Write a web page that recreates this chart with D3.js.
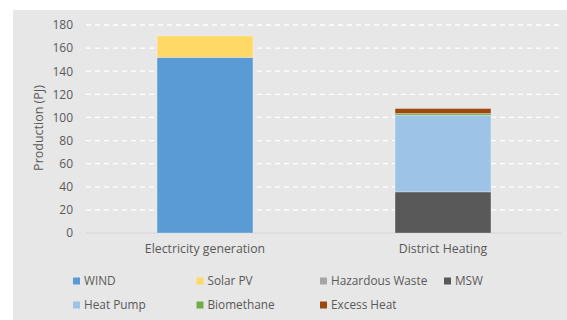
<!DOCTYPE html>
<html><head><meta charset="utf-8">
<script src="https://cdn.jsdelivr.net/npm/d3@7"></script>
<style>
html,body{margin:0;padding:0;background:#fff;}
text{font-family:"Open Sans","Noto Sans",sans-serif;fill:#595959;}
</style></head>
<body>
<script>
const categories = ["Electricity generation", "District Heating"];
const seriesNames = ["WIND", "Solar PV", "Hazardous Waste", "MSW", "Heat Pump", "Biomethane", "Excess Heat"];
const seriesColors = ["#5B9BD5", "#FFD966", "#A5A5A5", "#595959", "#9DC3E6", "#70AD47", "#9E480E"];
const WIND = [152, 0];
const SolarPV = [18.5, 0];
const HazardousWaste = [0, 0];
const MSW = [0, 35.6];
const HeatPump = [0, 66.4];
const Biomethane = [0, 1.4];
const ExcessHeat = [0, 4.3];
const yTicks = [0, 20, 40, 60, 80, 100, 120, 140, 160, 180];

const seriesValues = [WIND, SolarPV, HazardousWaste, MSW, HeatPump, Biomethane, ExcessHeat];
const rows = categories.map((c, i) => {
  const r = {cat: c};
  seriesNames.forEach((s, j) => r[s] = seriesValues[j][i]);
  return r;
});

const W = 567, H = 320;
const svg = d3.select("body").append("svg").attr("width", W).attr("height", H);
svg.append("rect").attr("x", 13).attr("y", 10).attr("width", W - 13).attr("height", H - 10).attr("fill", "#E7E7E7");

const L = 86, R = 562, T = 25, B = 233;
const x = d3.scaleBand().domain(categories).range([L, R]).padding(0);
const y = d3.scaleLinear().domain([0, 180]).range([B, T]);
const barW = x.bandwidth() * 0.403;

// gridlines
svg.append("g").selectAll("line").data(yTicks.filter(t => t > 0)).join("line")
  .attr("x1", L).attr("x2", 561).attr("y1", d => y(d)).attr("y2", d => y(d))
  .attr("stroke", "#fff").attr("stroke-width", 1.3).attr("stroke-dasharray", "5,4");

// axis line
svg.append("line").attr("x1", L).attr("x2", 561).attr("y1", B).attr("y2", B)
  .attr("stroke", "#D4D4D4").attr("stroke-width", 1);

// y axis labels
const yAxis = d3.axisLeft(y).tickValues(yTicks).tickSize(0).tickPadding(0);
const gy = svg.append("g").attr("transform", `translate(${73},0)`).call(yAxis);
gy.select(".domain").remove();
gy.selectAll("text").style("font-size", "12px").attr("fill", "#595959")
  .style("font-family", '"Open Sans","Noto Sans",sans-serif');

// x axis labels
const xAxis = d3.axisBottom(x).tickSize(0).tickPadding(0);
const gx = svg.append("g").attr("transform", `translate(0,${244})`).call(xAxis);
gx.select(".domain").remove();
gx.selectAll("text").style("font-size", "12.3px").attr("fill", "#595959")
  .style("font-family", '"Open Sans","Noto Sans",sans-serif');

// y title
svg.append("text").attr("transform", `translate(43,${128}) rotate(-90)`)
  .attr("text-anchor", "middle").style("font-size", "12.5px").text("Production (PJ)");

// stacked bars
const stack = d3.stack().keys(seriesNames)(rows);
svg.append("g").selectAll("g").data(stack).join("g")
  .attr("fill", (d, i) => seriesColors[i])
  .selectAll("rect").data(d => d.filter(p => p[1] - p[0] > 0)).join("rect")
  .attr("x", d => x(d.data.cat) + (x.bandwidth() - barW) / 2)
  .attr("width", barW)
  .attr("y", d => y(d[1]))
  .attr("height", d => y(d[0]) - y(d[1]))
  .attr("stroke", "rgba(255,255,255,0.35)").attr("stroke-width", 0.8);

// legend
const legX = [73, 196.5, 320, 444];
const legY = [281, 305];
const leg = svg.append("g");
seriesNames.forEach((s, i) => {
  const col = i < 4 ? i : i - 4;
  const row = i < 4 ? 0 : 1;
  const g = leg.append("g").attr("transform", `translate(${legX[col]},${legY[row]})`);
  g.append("rect").attr("x", 0).attr("y", -3.5).attr("width", 7).attr("height", 7).attr("fill", seriesColors[i]);
  g.append("text").attr("x", 11).attr("y", 0).attr("dy", "0.36em").style("font-size", "11.8px").text(s);
});
</script>
</body></html>
